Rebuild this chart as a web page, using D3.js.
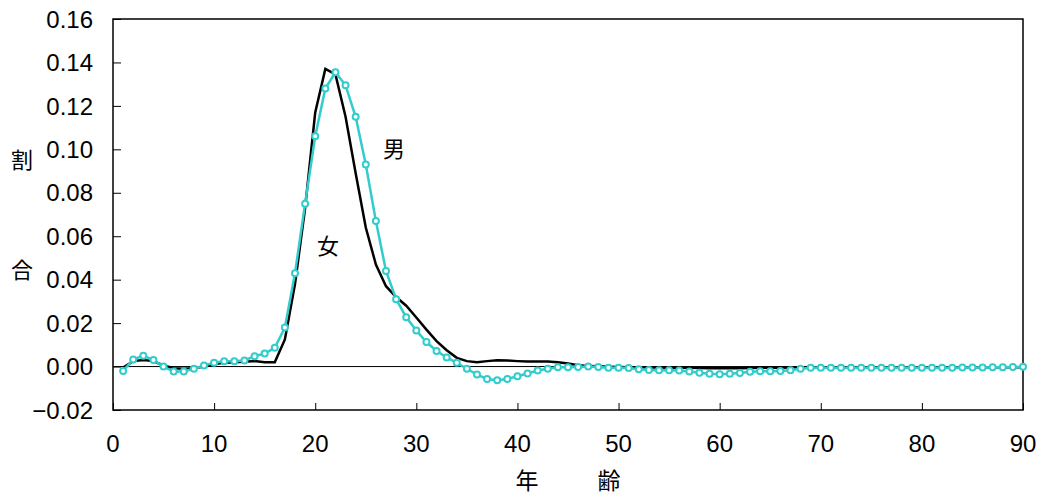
<!DOCTYPE html>
<html>
<head>
<meta charset="utf-8">
<script src="https://cdn.jsdelivr.net/npm/d3@7"></script>
<style>
  body { margin: 0; background: #fff; }
  text { font-family: "Liberation Sans", Arial, sans-serif; }
  .jp { font-family: "Noto Sans CJK JP", sans-serif; }
</style>
</head>
<body>
<div id="chart"></div>
<script>
(function() {
    // ages 1..90
    var ages = d3.range(1, 91);

    // 男 (cyan, with markers)
    var male = [
        -0.0020, 0.0032, 0.0050, 0.0030, 0.0000, -0.0023, -0.0023, -0.0010, 0.0005, 0.0018,
        0.0025, 0.0025, 0.0028, 0.0048, 0.0060, 0.0086, 0.0180, 0.0430, 0.0750, 0.1060,
        0.1280, 0.1355, 0.1295, 0.1150, 0.0930, 0.0670, 0.0440, 0.0310, 0.0227, 0.0166,
        0.0113, 0.0072, 0.0042, 0.0017, -0.0010, -0.0037, -0.0057, -0.0063, -0.0057, -0.0045,
        -0.0032, -0.0018, -0.0010, -0.0003, -0.0003, -0.0002, 0.0000, -0.0002, -0.0005, -0.0006,
        -0.0007, -0.0012, -0.0016, -0.0017, -0.0017, -0.0018, -0.0023, -0.0029, -0.0033, -0.0035,
        -0.0033, -0.0030, -0.0024, -0.0022, -0.0022, -0.0020, -0.0017, -0.0010, -0.0006, -0.0006,
        -0.0005, -0.0005, -0.0005, -0.0005, -0.0005, -0.0005, -0.0005, -0.0005, -0.0005, -0.0005,
        -0.0005, -0.0005, -0.0005, -0.0004, -0.0004, -0.0004, -0.0003, -0.0003, -0.0002, -0.0001
    ];

    // 女 (black line)
    var female = [
        -0.0005, 0.0025, 0.0030, 0.0025, 0.0005, -0.0008, -0.0010, -0.0008, 0.0000, 0.0012,
        0.0017, 0.0020, 0.0022, 0.0025, 0.0020, 0.0020, 0.0125, 0.0380, 0.0730, 0.1170,
        0.1370, 0.1345, 0.1150, 0.0890, 0.0640, 0.0470, 0.0370, 0.0320, 0.0280, 0.0226,
        0.0170, 0.0117, 0.0075, 0.0040, 0.0025, 0.0020, 0.0025, 0.0029, 0.0028, 0.0025,
        0.0023, 0.0023, 0.0023, 0.0020, 0.0014, 0.0006, 0.0003, 0.0001, -0.0001, -0.0002,
        -0.0003, -0.0003, -0.0004, -0.0004, -0.0005, -0.0006, -0.0006, -0.0007, -0.0008, -0.0008,
        -0.0008, -0.0008, -0.0007, -0.0006, -0.0005, -0.0005, -0.0004, -0.0004, -0.0003, -0.0003,
        -0.0003, -0.0003, -0.0003, -0.0003, -0.0003, -0.0003, -0.0003, -0.0003, -0.0003, -0.0003,
        -0.0003, -0.0003, -0.0003, -0.0003, -0.0003, -0.0003, -0.0003, -0.0003, -0.0003, -0.0003
    ];

    var xTicks = [0, 10, 20, 30, 40, 50, 60, 70, 80, 90];
    var yTicks = [-0.02, 0, 0.02, 0.04, 0.06, 0.08, 0.10, 0.12, 0.14, 0.16];

    var width = 1045,
        height = 497,
        left = 113,
        right = 1023,
        top = 19,
        bottom = 410;

    var x = d3.scaleLinear().domain([0, 90]).range([left, right]);
    var y = d3.scaleLinear().domain([-0.02, 0.16]).range([bottom, top]);

    var svg = d3.select("#chart")
        .append("svg")
        .attr("width", width)
        .attr("height", height);

    // frame
    svg.append("rect")
        .attr("x", left)
        .attr("y", top)
        .attr("width", right - left)
        .attr("height", bottom - top)
        .attr("fill", "none")
        .attr("stroke", "#000")
        .attr("stroke-width", 1.5);

    // y ticks (inside) + labels
    var yAxis = svg.append("g")
        .attr("transform", "translate(" + left + ",0)")
        .call(d3.axisRight(y).tickValues(yTicks).tickSize(8).tickFormat(""));
    yAxis.select(".domain").remove();
    yAxis.selectAll("line").attr("stroke", "#000").attr("stroke-width", 1);

    svg.selectAll(".ylab")
        .data(yTicks)
        .enter().append("text")
        .attr("class", "ylab")
        .attr("x", 93)
        .attr("y", d => y(d))
        .attr("dy", "0.36em")
        .attr("text-anchor", "end")
        .attr("font-size", 24)
        .text(d => (d < 0 ? "\u2212" : "") + Math.abs(d).toFixed(2));

    // x ticks (inside) + labels
    var xAxis = svg.append("g")
        .attr("transform", "translate(0," + bottom + ")")
        .call(d3.axisTop(x).tickValues(xTicks).tickSize(7).tickFormat(""));
    xAxis.select(".domain").remove();
    xAxis.selectAll("line").attr("stroke", "#000").attr("stroke-width", 1);

    svg.selectAll(".xlab")
        .data(xTicks)
        .enter().append("text")
        .attr("class", "xlab")
        .attr("x", d => x(d))
        .attr("y", 452)
        .attr("text-anchor", "middle")
        .attr("font-size", 24)
        .text(d => d);

    // zero line
    svg.append("line")
        .attr("x1", left)
        .attr("x2", right)
        .attr("y1", y(0))
        .attr("y2", y(0))
        .attr("stroke", "#000")
        .attr("stroke-width", 1);

    var line = d3.line()
        .x(d => x(d[0]))
        .y(d => y(d[1]));

    var femaleData = ages.map((a, i) => [a, female[i]]);
    var maleData = ages.map((a, i) => [a, male[i]]);

    svg.append("path")
        .datum(femaleData)
        .attr("d", line)
        .attr("fill", "none")
        .attr("stroke", "#000")
        .attr("stroke-width", 2.5);

    svg.append("path")
        .datum(maleData)
        .attr("d", line)
        .attr("fill", "none")
        .attr("stroke", "#33cccc")
        .attr("stroke-width", 2.5);

    svg.selectAll(".dot")
        .data(maleData)
        .enter().append("circle")
        .attr("class", "dot")
        .attr("cx", d => x(d[0]))
        .attr("cy", d => y(d[1]))
        .attr("r", 3)
        .attr("fill", "#fff")
        .attr("stroke", "#33cccc")
        .attr("stroke-width", 2);

    // labels
    function jp(t, px, py, size) {
        svg.append("text")
            .attr("class", "jp")
            .attr("x", px)
            .attr("y", py)
            .attr("text-anchor", "middle")
            .attr("dy", "0.35em")
            .attr("font-size", size)
            .text(t);
    }
    jp("男", 394, 149, 22);
    jp("女", 328, 246, 22);
    jp("割", 22, 160, 22);
    jp("合", 22, 270, 22);
    jp("年", 527, 481, 23);
    jp("齢", 609, 481, 23);
})();
</script>
</body>
</html>
